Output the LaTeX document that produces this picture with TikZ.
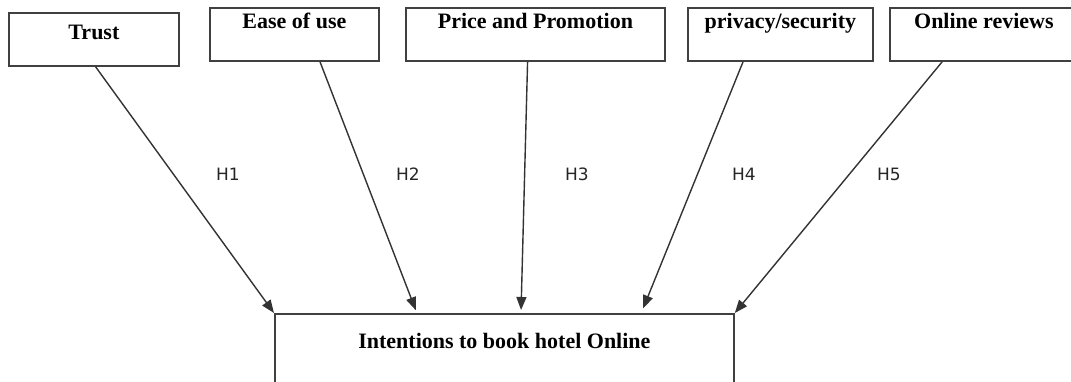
\documentclass[tikz,border=0pt]{standalone}
\usepackage{fontspec}
\setmainfont{Liberation Serif}
\newfontfamily\labfont{DejaVu Sans}
\usetikzlibrary{arrows.meta,calc}
\begin{document}
\begin{tikzpicture}[x=1pt,y=-1pt,
  factor/.style={draw=black!75,line width=1.8pt,rectangle,anchor=north west,
    inner xsep=0pt,inner ysep=7pt,text height=14pt,
    font=\fontsize{22}{26}\selectfont\bfseries},
  arr/.style={draw=black!80,line width=1.4pt,-{Triangle[length=13pt,width=10pt]}},
  hyp/.style={font=\labfont\fontsize{17}{20}\selectfont,text=black!85}]
\useasboundingbox (0,0) rectangle (1071,381);
\clip (0,0) rectangle (1071,381);
\fill[white] (0,0) rectangle (1071,381);
\node[factor,minimum width=170pt,inner ysep=13pt,text depth=13pt] (trust) at (8,12) {Trust};
\node[factor,minimum width=169pt,text depth=25pt] (ease) at (209,7) {Ease of use};
\node[factor,minimum width=259pt,text depth=25pt] (price) at (405,7) {Price and Promotion};
\node[factor,minimum width=185pt,text depth=25pt] (priv) at (687,7) {privacy/security};
\node[factor,minimum width=188pt,text depth=25pt] (rev) at (889,7) {Online reviews};
\node[factor,minimum width=459pt,inner ysep=21pt,text depth=50pt] (intent) at (274,313) {Intentions to book hotel Online};
\draw[arr] ($(trust.south west)!0.51!(trust.south east)$) -- (intent.north west);
\draw[arr,shorten >=3pt] ($(ease.south west)!0.65!(ease.south east)$) -- ($(intent.north west)!0.31!(intent.north east)$);
\draw[arr,shorten >=3pt] ($(price.south west)!0.47!(price.south east)$) -- ($(intent.north west)!0.536!(intent.north east)$);
\draw[arr,shorten >=5pt] ($(priv.south west)!0.30!(priv.south east)$) -- ($(intent.north west)!0.797!(intent.north east)$);
\draw[arr] ($(rev.south west)!0.28!(rev.south east)$) -- (intent.north east);
\node[hyp] (h1) at (228,174) {H1};
\node[hyp] (h2) at (408,174) {H2};
\node[hyp] (h3) at (577,174) {H3};
\node[hyp] (h4) at (744,174) {H4};
\node[hyp] (h5) at (889,174) {H5};
\end{tikzpicture}
\end{document}
